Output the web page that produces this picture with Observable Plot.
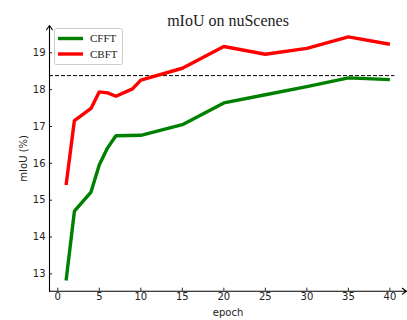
<!DOCTYPE html>
<html>
<head>
<meta charset="utf-8">
<script src="https://cdn.jsdelivr.net/npm/d3@7"></script>
<script src="https://cdn.jsdelivr.net/npm/@observablehq/plot@0.6"></script>
<style>
  html, body { margin: 0; padding: 0; background: #fff; }
  #chart { position: relative; width: 407px; height: 320px; }
</style>
</head>
<body>
<div id="chart"></div>
<script>
const cfftEpochs = [1, 2, 4, 5, 6, 7, 10, 15, 20, 25, 30, 35, 40];
const cfftValues = [12.82, 14.70, 15.22, 15.96, 16.42, 16.75, 16.76, 17.05, 17.64, 17.86, 18.08, 18.32, 18.27];
const cbftEpochs = [1, 2, 4, 5, 6, 7, 9, 10, 15, 20, 25, 30, 35, 40];
const cbftValues = [15.41, 17.16, 17.49, 17.94, 17.91, 17.82, 18.02, 18.26, 18.58, 19.17, 18.96, 19.12, 19.43, 19.23];
const seriesNames = ["CFFT", "CBFT"];
const seriesColors = ["#008000", "#ff0000"];
const baselineValue = 18.38;
const xTicks = [0, 5, 10, 15, 20, 25, 30, 35, 40];
const yTicks = [13, 14, 15, 16, 17, 18, 19];
const xDomain = [-1, 42];
const yDomain = [12.53, 19.74];
const titleText = "mIoU on nuScenes";

const rows = [
  ...cfftEpochs.map((e, i) => ({epoch: e, value: cfftValues[i], series: seriesNames[0]})),
  ...cbftEpochs.map((e, i) => ({epoch: e, value: cbftValues[i], series: seriesNames[1]}))
];

const chart = Plot.plot({
  width: 407,
  height: 320,
  marginLeft: 49,
  marginRight: 1,
  marginTop: 25,
  marginBottom: 29.3,
  style: {fontFamily: "DejaVu Sans", fontSize: "10px", color: "#222", background: "#fff"},
  x: {domain: xDomain},
  y: {domain: yDomain},
  color: {domain: seriesNames, range: seriesColors},
  marks: [
    Plot.axisX({ticks: xTicks, tickSize: -3, tickPadding: 5, tickFormat: d => String(d),
      label: "epoch", labelAnchor: "center", labelArrow: "none", labelOffset: 25, fontSize: 10}),
    Plot.axisY({ticks: yTicks, tickSize: -3, tickPadding: 7, tickFormat: d => String(d),
      label: "mIoU (%)", labelAnchor: "center", labelArrow: "none", labelOffset: 30, fontSize: 10}),
    Plot.ruleY([baselineValue], {x1: xDomain[0], x2: 40.6, stroke: "#000", strokeWidth: 1, strokeDasharray: "4,2"}),
    Plot.line(rows, {x: "epoch", y: "value", stroke: "series", strokeWidth: 3.4, strokeLinejoin: "miter", strokeLinecap: "butt"}),
    Plot.arrow([0], {x1: xDomain[0], y1: yDomain[0], x2: xDomain[0], y2: yDomain[1], stroke: "#000", strokeWidth: 1.1, headLength: 7, headAngle: 70}),
    Plot.arrow([0], {x1: xDomain[0], y1: yDomain[0], x2: xDomain[1], y2: yDomain[0], stroke: "#000", strokeWidth: 1.1, headLength: 7, headAngle: 70}),
    Plot.text([titleText], {frameAnchor: "top", dy: -11, fontFamily: "Liberation Serif", fontSize: 16, fill: "#222", text: d => d})
  ]
});

// legend drawn into the same SVG
const svg = d3.select(chart);
const lg = svg.append("g").attr("transform", "translate(54.5,28.5)");
lg.append("rect").attr("width", 68).attr("height", 36).attr("rx", 2)
  .attr("fill", "#fff").attr("fill-opacity", 0.9).attr("stroke", "#ccc").attr("stroke-width", 1);
seriesNames.forEach((name, i) => {
  const y = 10 + i * 15.5;
  lg.append("line").attr("x1", 3.5).attr("x2", 28.5).attr("y1", y).attr("y2", y)
    .attr("stroke", seriesColors[i]).attr("stroke-width", 3.4);
  lg.append("text").attr("x", 35.5).attr("y", y).attr("dy", "0.35em")
    .attr("text-anchor", "start")
    .attr("font-family", "Liberation Serif").attr("font-size", 11).attr("fill", "#222").text(name);
});

document.getElementById("chart").appendChild(chart);
</script>
</body>
</html>
